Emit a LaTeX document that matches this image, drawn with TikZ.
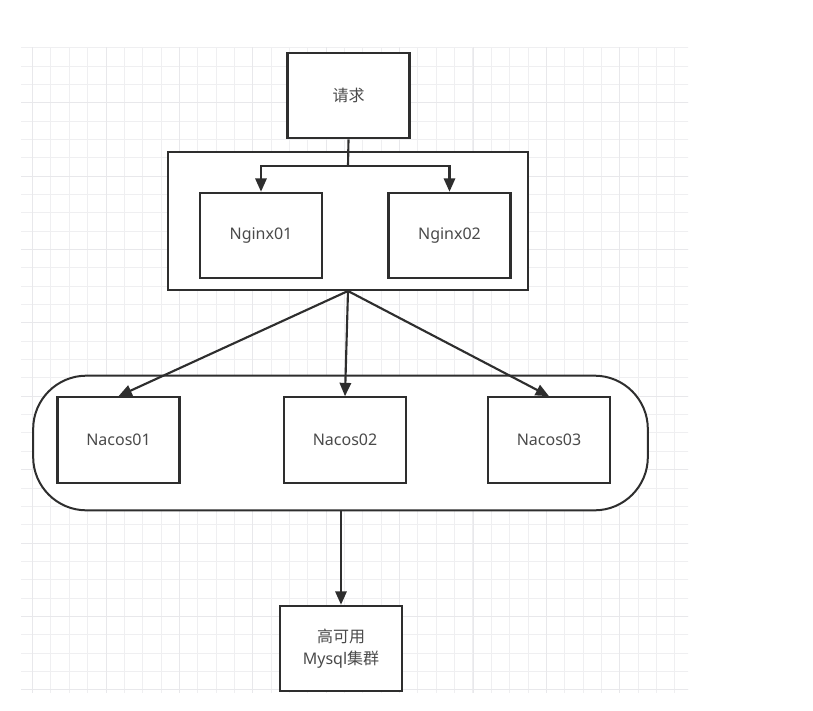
\documentclass[tikz,border=0pt]{standalone}
\usepackage{fontspec}
\setmainfont{Noto Sans}
\newfontfamily\cjk{Noto Sans CJK SC}
\usetikzlibrary{arrows.meta, positioning}

\definecolor{gridminor}{HTML}{EFEFF1}
\definecolor{gridmajor}{HTML}{E8E8EB}
\definecolor{boxline}{HTML}{2E2E2E}
\definecolor{boxtext}{HTML}{4A4A4A}

\begin{document}
\begin{tikzpicture}[
  x=0.75pt, y=-0.75pt,
  every node/.style={font=\fontsize{12}{16}\selectfont, text=boxtext},
  srv/.style={rectangle, draw=boxline, line width=1.7pt, fill=white,
              minimum width=91.5pt, minimum height=64pt, inner sep=0pt, align=center},
  grp/.style={rectangle, draw=boxline, line width=1.5pt, fill=white, inner sep=0pt},
  arr/.style={-{Triangle[length=10pt, width=8.5pt]}, draw=boxline, line width=1.6pt},
  link/.style={draw=boxline, line width=1.6pt},
]
\useasboundingbox (0,0) rectangle (813,710);
% grid background
\begin{scope}
  \clip (21,48) rectangle (688,692);
  \begin{scope}[shift={(106,102.7)}]
    \draw[gridminor, line width=0.7pt, step=13.76pt] (-120,-80) grid (620,620);
    \draw[gridmajor, line width=0.7pt, step=55.05pt] (-120,-80) grid (620,620);
  \end{scope}
\end{scope}

% Request and nginx layer
\node[srv] (req) at (348.5,95.5) {\cjk 请求};
\node[grp, minimum width=270pt, minimum height=103.5pt] (ngxgrp) at (348,221) {};
\node[srv] (ngx1) at (261,235.5) {Nginx01};
\node[srv] (ngx2) at (449.5,235.5) {Nginx02};
\coordinate (split) at (348,166);
\draw[link] (req.south) -- (split);
\draw[arr] (split) -| (ngx1);
\draw[arr] (split) -| (ngx2);

% Nacos cluster
\node[grp, rounded corners=40pt, minimum width=461pt, minimum height=101pt] (nacgrp) at (340.5,443) {};
\node[srv] (nac1) at (118.5,440) {Nacos01};
\node[srv] (nac2) at (345,440) {Nacos02};
\node[srv] (nac3) at (549,440) {Nacos03};
\draw[arr] (ngxgrp.south) -- (nac1.north);
\draw[arr] (ngxgrp.south) -- (nac2.north);
\draw[arr] (ngxgrp.south) -- (nac3.north);

% Mysql
\node[srv] (db) at (341,648.5) {{\cjk 高可用}\\Mysql{\cjk 集群}};
\draw[arr] (nacgrp.south -| db.north) -- (db.north);
\end{tikzpicture}
\end{document}
